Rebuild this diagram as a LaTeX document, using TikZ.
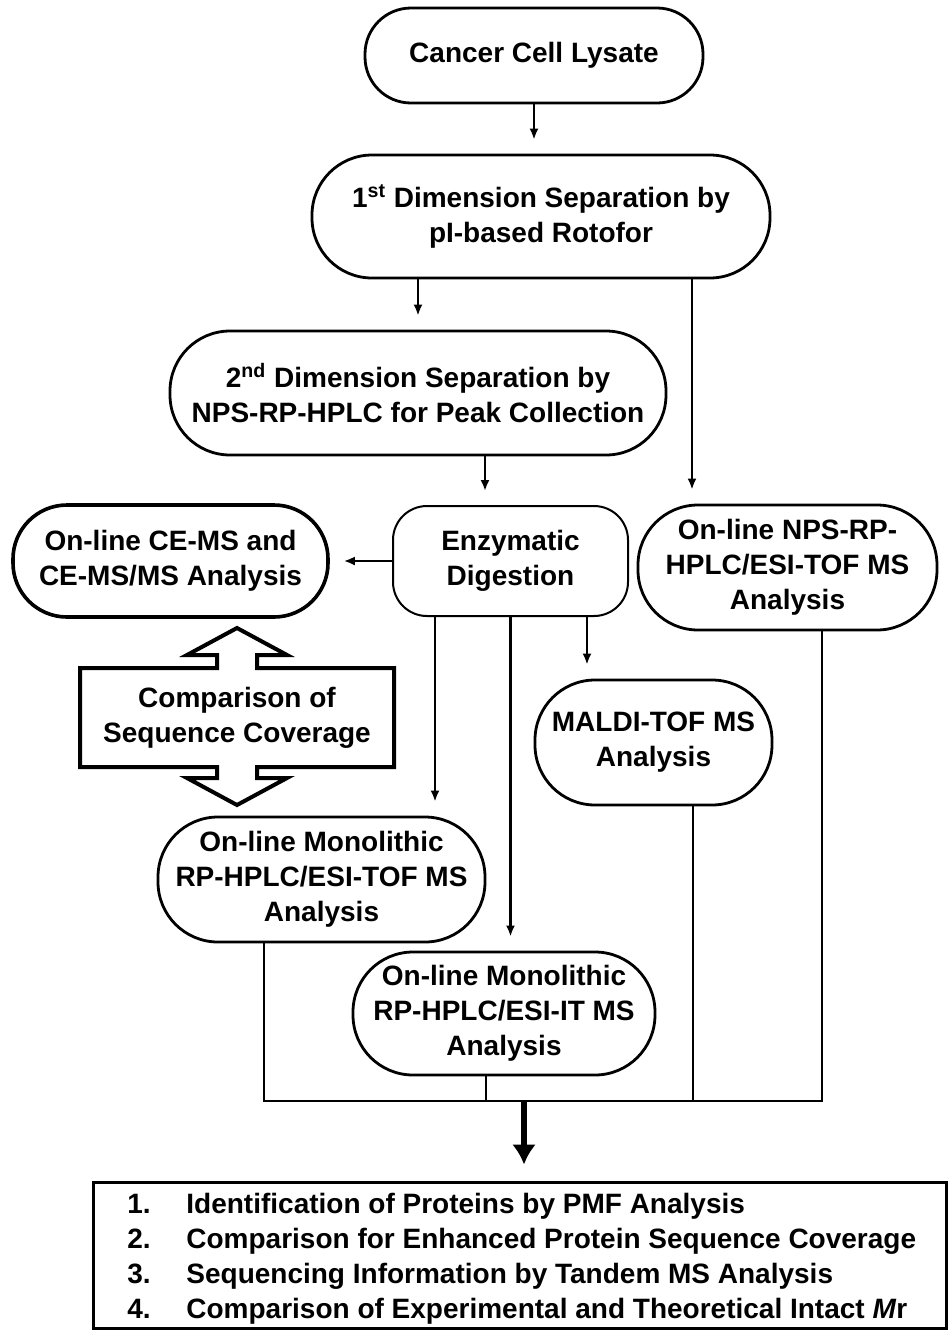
\documentclass[tikz,border=0pt]{standalone}
\usepackage{fontspec}
\setmainfont{Liberation Sans}
\usetikzlibrary{arrows.meta,calc}

\begin{document}
\begin{tikzpicture}[
    x=0.5pt,
    y=-0.5pt,
    >=Latex,
    font=\fontsize{14}{17.5}\selectfont\bfseries,
    stage/.style={
        draw,
        line width=1.4pt,
        rounded corners=30pt,
        align=center,
        inner sep=0pt
    },
    link/.style={line width=1.1pt},
    arr/.style={
        link,
        -{Latex[length=5.5pt,width=4.5pt]},
        shorten >=7pt
    }
]

\useasboundingbox (0,0) rectangle (948,1330);

% --------------------------------------------------
% Separation stages
% --------------------------------------------------

\node[stage, rounded corners=23pt, minimum width=169pt, minimum height=47.5pt] (lysate) at (534,55.5)
    {Cancer Cell Lysate};

\node[stage, minimum width=229pt, minimum height=61.5pt] (rotofor) at (541,216.5)
    {1\textsuperscript{st} Dimension Separation by\\pI-based Rotofor};

\node[stage, minimum width=248pt, minimum height=62pt] (secsep) at (418,393)
    {2\textsuperscript{nd} Dimension Separation by\\NPS-RP-HPLC for Peak Collection};

% --------------------------------------------------
% Digestion and analyses
% --------------------------------------------------

\node[stage, line width=1.8pt, rounded corners=27pt, minimum width=157.5pt, minimum height=56pt] (cems) at (170.5,561)
    {On-line CE-MS and\\CE-MS/MS Analysis};

\node[stage, line width=1pt, rounded corners=17pt, minimum width=117.5pt, minimum height=55pt] (enzyme) at (510.5,561)
    {Enzymatic\\Digestion};

\node[stage, minimum width=149.5pt, minimum height=62.5pt] (nps) at (787.5,567.5)
    {On-line NPS-RP-\\HPLC/ESI-TOF MS\\Analysis};

\node[stage, minimum width=118.5pt, minimum height=62.5pt] (maldi) at (653.5,742.5)
    {MALDI-TOF MS\\Analysis};

\node[stage, minimum width=163.5pt, minimum height=62.5pt] (moltof) at (321.5,879.5)
    {On-line Monolithic\\RP-HPLC/ESI-TOF MS\\Analysis};

\node[stage, minimum width=151pt, minimum height=61.5pt] (molit) at (504,1013.5)
    {On-line Monolithic\\RP-HPLC/ESI-IT MS\\Analysis};

% --------------------------------------------------
% Comparison double arrow
% --------------------------------------------------

\node[align=center] (compare) at (237,717.5)
    {Comparison of\\Sequence Coverage};

\draw[line width=2pt, line join=miter]
    (80,668) -- (217,668) -- (217,655) -- (187,655) -- (237,628)
    -- (287,655) -- (257,655) -- (257,668) -- (394,668) -- (394,767)
    -- (257,767) -- (257,778) -- (287,778) -- (237,805) -- (187,778)
    -- (217,778) -- (217,767) -- (80,767) -- cycle;

% --------------------------------------------------
% Results
% --------------------------------------------------

\node[draw, line width=1.5pt, minimum width=426.5pt, minimum height=73pt, inner sep=0pt] (results) at (519.5,1255)
    {};

\foreach \txt [count=\i] in {
    {Identification of Proteins by PMF Analysis},
    {Comparison for Enhanced Protein Sequence Coverage},
    {Sequencing Information by Tandem MS Analysis},
    {Comparison of Experimental and Theoretical Intact \textit{M}r}}
{
    \node[anchor=base west, inner sep=0pt] (num\i) at (127,1178+35*\i) {\i.};
    \node[anchor=base west, inner sep=0pt] (item\i) at (186,1178+35*\i) {\txt};
}

% --------------------------------------------------
% Arrows
% --------------------------------------------------

\coordinate (npsin) at ($(nps.north)+(-95.5,0)$);
\coordinate (enzin) at ($(enzyme.north)+(-25.5,0)$);
\coordinate (tofin) at ($(moltof.north)+(113.5,0)$);
\coordinate (maldiin) at ($(maldi.north)+(-66.5,0)$);

\draw[arr] (lysate.south) -- (lysate.south |- rotofor.north);
\draw[arr] (secsep.north |- rotofor.south) -- (secsep.north);
\draw[arr] (npsin |- rotofor.south) -- (npsin);
\draw[arr] (enzin |- secsep.south) -- (enzin);
\draw[arr] (enzyme.west) -- (cems.east);
\draw[arr] (tofin |- enzyme.south) -- (tofin);
\draw[arr] (enzyme.south) -- (enzyme.south |- molit.north);
\draw[arr] (maldiin |- enzyme.south) -- (maldiin);

% --------------------------------------------------
% Collecting lines
% --------------------------------------------------

\coordinate (bus) at (524,1101);
\coordinate (outtof) at ($(moltof.south)+(-57.5,0)$);
\coordinate (outit) at ($(molit.south)+(-18,0)$);
\coordinate (outmaldi) at ($(maldi.south)+(39.5,0)$);
\coordinate (outnps) at ($(nps.south)+(34.5,0)$);

\draw[link] (outtof) -- (outtof |- bus) -- (outnps |- bus) -- (outnps);
\draw[link] (outit) -- (outit |- bus);
\draw[link] (outmaldi) -- (outmaldi |- bus);

\draw[line width=3pt, -{Latex[length=10pt,width=12pt]}, shorten >=8pt]
    (bus) -- (bus |- results.north);

\end{tikzpicture}
\end{document}
